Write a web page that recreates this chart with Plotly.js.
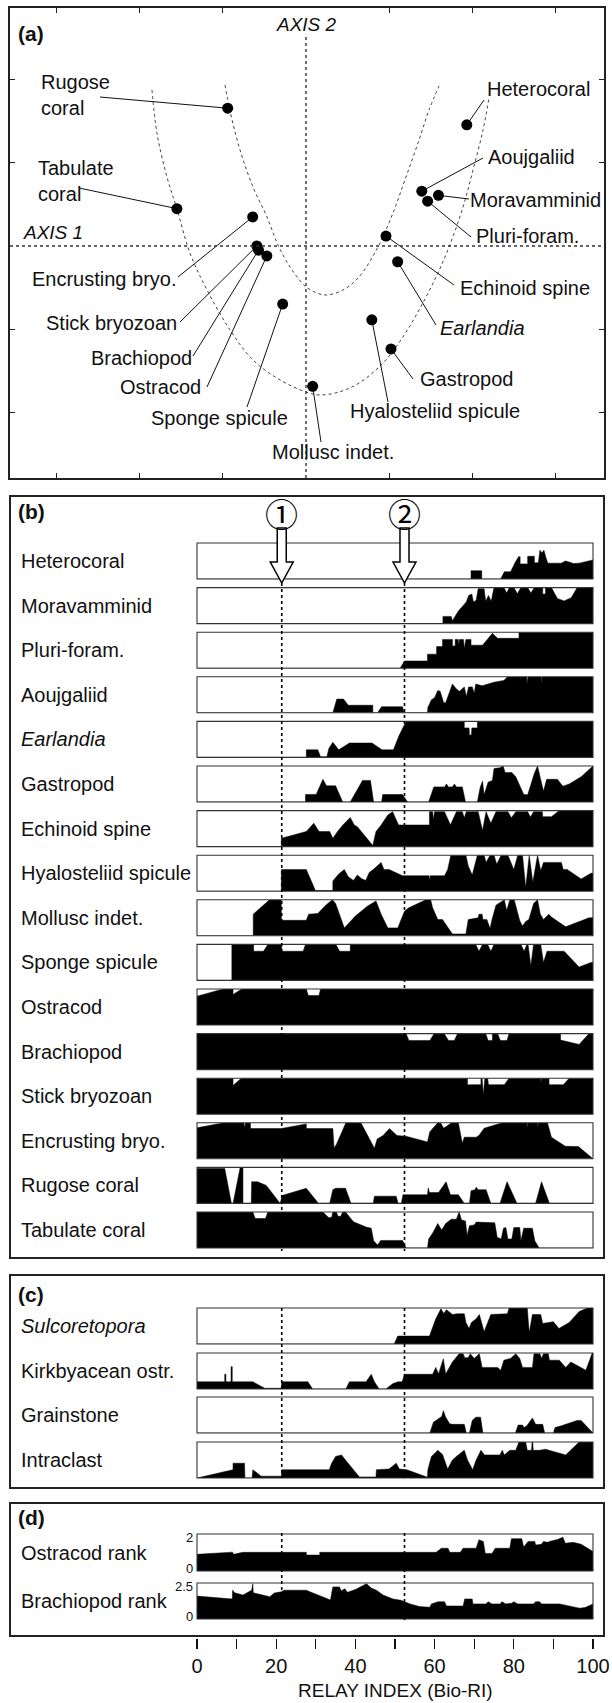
<!DOCTYPE html>
<html><head><meta charset="utf-8">
<script src="https://cdn.plot.ly/plotly-3.0.1.min.js"></script>
<style>html,body{margin:0;padding:0;background:#fff}#chart{width:612px;height:1703px}</style>
</head><body><div id="chart"></div>
<script>
// ================= DATA =================
// ---- Panel (a): ordination scores (axis 1 = x, axis 2 = y)
const ordLabels = ['Rugose<br>coral','Tabulate<br>coral','Encrusting bryo.','Stick bryozoan','Brachiopod','Ostracod','Sponge spicule','Mollusc indet.',
  'Heterocoral','Aoujgaliid','Moravamminid','Pluri-foram.','Echinoid spine','<i>Earlandia</i>','Gastropod','Hyalosteliid spicule'];
const ordAxis1 = [-0.94,-1.55,-0.64,-0.59,-0.57,-0.47,-0.28,0.08, 1.93,1.39,1.59,1.46,0.96,1.10,1.02,0.79];
const ordAxis2 = [1.66,0.45,0.35,0.00,-0.05,-0.12,-0.70,-1.69, 1.46,0.66,0.61,0.54,0.12,-0.19,-1.24,-0.89];
const innerCurveX = [-0.972,-0.912,-0.792,-0.636,-0.468,-0.336,-0.192,-0.048,0,0.216,0.444,0.636,0.864,1.044,1.200,1.357,1.477,1.597];
const innerCurveY = [1.940,1.627,1.157,0.711,0.349,0.012,-0.253,-0.446,-0.494,-0.590,-0.530,-0.373,-0.012,0.398,0.831,1.277,1.639,1.928];
const outerCurveX = [-1.849,-1.789,-1.669,-1.549,-1.393,-1.188,-0.912,-0.636,-0.312,0,0.156,0.396,0.636,0.924,1.164,1.357,1.561,1.717,1.885,2.005,2.125,2.197];
const outerCurveY = [1.880,1.361,0.831,0.446,-0.084,-0.530,-1.012,-1.373,-1.614,-1.759,-1.795,-1.759,-1.651,-1.410,-1.096,-0.771,-0.373,-0.012,0.470,0.916,1.398,1.783];
const axisTicksX = [-3,-2,-1,1,2,3];
const axisTicksY = [-2,-1,1,2];

// ---- Panels (b)-(d): [Relay index, relative abundance]
const heterocoral = [[0,0],[69.2,0],[69.2,0.23],[71.9,0.23],[71.9,0],[76.7,0],[77.6,0.2],[79.2,0.2],[80.3,0.45],[81.2,0.62],[81.6,0.62],[81.6,0.42],[83.5,0.42],[83.5,0.63],[85.2,0.63],[85.2,0.45],[86.2,0.45],[86.6,0.8],[87.1,0.72],[87.6,0.8],[88.1,0.6],[88.6,0.44],[92,0.44],[93,0.5],[94,0.47],[95,0.43],[96.5,0.44],[99.5,0.53],[100,0.53]];
const moravamminid = [[0,0],[62.1,0],[62.1,0.2],[64.2,0.2],[64.5,0.08],[66,0.35],[68,0.6],[68.6,0.78],[69.4,0.82],[69.8,0.6],[70.5,0.65],[71,0.97],[72.5,0.97],[72.9,0.62],[73.6,0.78],[74.3,0.62],[75,1],[77.5,1],[78.2,0.85],[78.9,1],[80,1],[80.9,0.83],[81.8,1],[83.5,1],[84.3,0.85],[85.2,1],[87.3,1],[87.3,0.82],[88,0.82],[88,1],[89.5,1],[91,0.7],[92.7,0.63],[94.5,0.72],[96,1],[100,1]];
const pluriForam = [[0,0],[51.3,0],[52.4,0.2],[58.2,0.2],[58.2,0.39],[60.5,0.39],[60.5,0.6],[62,0.6],[62,0.8],[64.5,0.8],[64.5,0.62],[65.2,0.62],[65.2,0.8],[66,0.8],[66,0.65],[66.3,0.8],[67.3,0.8],[67.5,0.55],[67.9,0.8],[69.2,0.8],[69.2,0.64],[72.1,0.64],[74.6,0.97],[75.9,0.83],[81.3,0.83],[81.3,1],[100,1]];
const aoujgaliid = [[0,0],[34.3,0],[35.3,0.38],[37,0.38],[38.2,0.21],[44.4,0.21],[44.4,0],[45.6,0],[46.6,0.17],[51.9,0.17],[52.3,0],[58.2,0],[58.3,0.15],[59.2,0.36],[60,0.42],[60.8,0.62],[61.4,0.6],[62.3,0.28],[62.8,0.28],[64.5,0.8],[65.5,0.66],[66.3,0.6],[67.5,0.72],[68,0.45],[68.6,0.72],[69.5,0.72],[70,0.55],[70.4,0.8],[72,0.75],[73.5,0.8],[75,0.85],[77.5,0.9],[78.4,1],[83.3,1],[83.3,0.8],[83.6,1],[87,1],[87,0.8],[87.2,1],[100,1]];
const earlandia = [[0,0],[27.6,0],[27.6,0.21],[30.5,0.21],[31.2,0.02],[32.8,0.02],[33.3,0.25],[34.3,0.42],[35.8,0.21],[37,0.3],[38.5,0.4],[44.2,0.4],[46.7,0.21],[49.6,0.21],[51,0.6],[52.8,1],[67.5,1],[67.5,0.82],[68.7,0.82],[68.8,0.62],[69.3,0.62],[69.4,0.82],[70.8,0.82],[70.8,1],[100,1]];
const gastropod = [[0,0],[27.4,0],[27.4,0.21],[30.1,0.21],[31.8,0.63],[32.7,0.45],[35,0.45],[36.8,0],[38.7,0],[41.8,0.6],[43.8,0.6],[44.6,0],[46.6,0],[46.9,0.21],[51.9,0.21],[53.2,0],[58.5,0],[59.8,0.42],[62.5,0.42],[63,0.5],[63.5,0.42],[64.5,0.42],[65,0.5],[65.5,0.42],[67,0.42],[67.8,0],[70.8,0],[71.5,0.4],[72.1,0.58],[72.5,0.2],[73.5,0.55],[74.6,0.6],[75,0.93],[76.5,0.95],[77.3,1],[77.8,0.82],[79.5,0.82],[80.5,0.7],[82.5,0.21],[83.5,0.2],[85.2,0.8],[86,1],[86.8,0.62],[87.5,0.3],[88.3,0.63],[91,0.63],[92.4,0.44],[94,0.5],[97,0.7],[100,1]];
const echinoidSpine = [[0,0],[21.3,0],[21.3,0.23],[27.6,0.42],[29.5,0.65],[30.8,0.42],[33.5,0.42],[34.3,0.23],[35.5,0.42],[37,0.62],[38.7,0.81],[39.7,0.6],[40.5,0.55],[44.4,0.03],[45.2,0.42],[46.5,0.6],[48.2,0.88],[49.4,0.97],[50.9,0.6],[58.7,0.6],[58.7,0.97],[59.5,0.97],[59.7,0.75],[60,0.97],[62.5,0.97],[64,0.6],[65.5,0.97],[67,0.97],[67.5,0.8],[68,0.97],[71,0.97],[72.1,0.45],[73,0.97],[74.2,0.65],[75.5,0.97],[78.5,0.97],[79.4,0.8],[80.5,0.97],[83.5,0.97],[84.2,0.82],[85,0.97],[87.2,0.97],[87.3,0.83],[89.5,0.83],[91.5,1],[100,1]];
const hyalosteliid = [[0,0],[21.3,0],[21.3,0.6],[27.6,0.6],[29.9,0.02],[34.3,0.02],[34.3,0.28],[35.8,0.48],[37.2,0.6],[38.2,0.4],[39.5,0.3],[40.5,0.45],[41.5,0.35],[42.6,0.3],[43.5,0.52],[44.5,0.6],[46.5,0.8],[47.2,0.6],[48.5,0.6],[51.9,0.43],[58.6,0.43],[58.7,0.3],[58.9,0.43],[62.5,0.43],[63.3,0.6],[64.1,1],[67.9,1],[68.5,0.7],[69.5,0.45],[70.8,1],[72.5,1],[73,0.8],[74,1],[75,1],[75.7,0.75],[76.8,1],[78.5,1],[80,0.6],[81,1],[82.2,1],[83,0.1],[83.9,1],[84.8,0.25],[86,1],[86.8,0.57],[87.5,0.8],[92,0.8],[92.5,0.6],[93.5,0.6],[97,0.34],[99.5,0.5],[100,0.5]];
const molluscIndet = [[0,0],[14.2,0],[14.2,0.6],[16.2,0.8],[18.3,1],[21.3,1],[21.3,0.43],[27.6,0.43],[28.2,0.6],[30.5,0.62],[32.5,0.85],[34.2,1],[35,0.9],[37.2,0.22],[40,0.55],[43,0.82],[45.2,0.97],[46.5,0.6],[48.2,0.22],[50.7,0.22],[52.4,0.68],[53.5,0.78],[57.8,1],[59,1],[59.5,0.78],[60.8,0.45],[62,0.45],[64.5,0.05],[67.9,0.05],[68.5,0.45],[71,0.5],[71.2,0.6],[72,0.6],[72.2,0.45],[73.2,0.45],[74,0.2],[74.5,0.45],[75.5,0.85],[77.6,1],[78.2,0.7],[79,1],[80.1,1],[81.5,0.42],[82.2,0.27],[83,0.4],[83.8,0.45],[85,0.9],[86,1],[86.7,0.6],[87.5,0.45],[88.8,0.6],[89.5,0.52],[93.1,0.25],[99,0.5],[100,0.5]];
const spongeSpicule = [[0,0],[8.8,0],[8.8,1],[14.3,1],[14.3,0.81],[16.8,0.81],[17.9,1],[21.4,1],[21.4,0.81],[26.8,0.81],[27.4,1],[35.1,1],[36,0.81],[38.7,0.81],[38.7,1],[70.4,1],[71.2,0.81],[72.1,1],[73.4,1],[74.2,0.81],[75,1],[81.8,1],[82.6,0.81],[83.3,1],[83.6,1],[84.3,0.4],[85,1],[86.8,1],[87.5,0.5],[88.4,0.81],[92.7,0.81],[96.5,0.37],[99.5,0.5],[100,0.5]];
const ostracod = [[0,0.8],[6.6,1],[9.1,1],[9.1,0.85],[11.3,1],[27.6,1],[28.1,0.82],[30.8,0.82],[31.2,1],[100,1]];
const brachiopod = [[0,1],[52.8,1],[53.5,0.81],[58.8,0.81],[59.9,1],[62.4,1],[63.5,0.81],[65,0.81],[65.8,1],[72.9,1],[73.5,0.81],[74.6,0.81],[74.6,1],[75.9,1],[76.6,0.81],[78.3,0.81],[78.8,1],[91.8,1],[91.8,0.82],[96.5,0.7],[99,1],[100,1]];
const stickBryozoan = [[0,1],[9.1,1],[9.1,0.8],[11.2,1],[68.3,1],[68.3,0.82],[71.7,0.82],[71.7,1],[72,1],[72.3,0.55],[72.7,1],[73.4,1],[73.6,0.82],[77.6,0.82],[78.8,1],[86.8,1],[86.8,0.85],[87,1],[88.9,1],[88.9,0.82],[92.5,0.82],[94,1],[100,1]];
const encrustingBryo = [[0,0.86],[6.8,1],[11.9,1],[11.9,0.86],[12.3,1],[13.5,1],[13.5,0.84],[21.3,0.84],[27.6,0.97],[27.6,0.84],[34.3,0.84],[34.6,0.3],[35.2,0.4],[37.6,1],[41.4,1],[44.8,0.29],[45.5,0.55],[47,0.65],[48.6,0.84],[50.5,0.65],[53,0.62],[58.2,0.47],[58.8,0.75],[60.8,1],[61.5,1],[62.3,0.85],[64.3,1],[66,1],[67,0.43],[67.5,0.6],[70.5,0.6],[71.2,0.65],[72.5,0.85],[75.5,0.95],[77.1,1],[83.3,1],[83.3,0.85],[83.5,1],[86,1],[86,0.85],[86.2,1],[88.5,1],[89.5,0.6],[93,0.35],[96.3,0.34],[99.8,0.02],[100,0]];
const rugoseCoral = [[0,0.97],[7,0.97],[8.7,0],[9.1,0],[10.9,1],[11.6,1],[11.6,0],[13.7,0],[13.8,0.6],[15.3,0.6],[17.5,0.5],[19.5,0.2],[21,0],[21.5,0.22],[27.6,0.42],[30.7,0],[33.5,0],[34.3,0.38],[35,0.42],[37.5,0.42],[38.9,0],[44.5,0],[44.8,0.2],[50.3,0.2],[50.8,0],[51.6,0],[52,0.24],[58.2,0.24],[58.4,0.43],[58.7,0.3],[61,0.3],[62.9,0.6],[64,0.24],[66,0.24],[67.5,0],[68.8,0],[69.2,0.35],[70.2,0.38],[70.5,0.45],[71,0.38],[73,0.38],[74.2,0],[76.5,0],[78.3,0.6],[80.8,0],[85.5,0],[87,0.6],[89,0],[100,0]];
const tabulateCoral = [[0,1],[14.1,1],[14.7,0.82],[17.3,0.82],[17.9,1],[31.8,1],[33.2,0.85],[34,0.85],[34.3,1],[35.2,1],[35.6,0.88],[36.3,0.88],[36.8,1],[37.5,1],[39.5,0.73],[41.5,0.64],[42.7,0.58],[44,0.55],[44.6,0.2],[45.6,0.08],[46.4,0.21],[51.9,0.21],[52.8,0],[58.2,0],[58.5,0.25],[59.6,0.43],[60.8,0.68],[61.8,0.5],[62.8,0.68],[64.2,0.8],[65.5,0.8],[66.2,1],[66.8,0.78],[67.8,0.75],[68.2,0.35],[68.8,0.62],[70,0.64],[70.5,0.72],[74.8,0.72],[75.2,0.7],[75.8,0.3],[76.8,0.25],[77.4,0.55],[78,0.57],[78.5,0.25],[79.5,0.25],[80,0.57],[81.5,0.57],[81.8,0.2],[82.5,0.55],[84.7,0.55],[85.3,0.2],[86.4,0],[100,0]];
const sulcoretopora = [[0,0],[49.8,0],[50.7,0.22],[58.7,0.22],[60.3,0.7],[61.6,0.98],[62.3,0.85],[63,0.95],[64.5,0.82],[65.8,0.84],[67.5,0.84],[67.9,0.6],[68.7,0.43],[69.3,0.6],[70.5,0.7],[71.3,0.82],[72.5,0.34],[74.2,0.82],[78.4,0.84],[78.8,1],[83.4,1],[83.9,0.31],[84.7,0.82],[86.8,0.82],[87.3,0.57],[88.5,0.6],[90,0.62],[91.4,0.43],[94,0.6],[96.5,0.9],[98.6,1],[100,1]];
const kirkbyacean = [[0,0.2],[7,0.2],[7,0.41],[7.3,0.41],[7.3,0.2],[8.6,0.2],[8.6,0.62],[8.9,0.62],[8.9,0.2],[14.1,0.2],[17.1,0.02],[21.3,0.02],[21.4,0.2],[28,0.2],[29.2,0],[37.6,0],[38.5,0.2],[42.7,0.2],[44,0.41],[44.8,0.2],[46,0],[47.7,0],[49.5,0.15],[50.8,0.2],[51.8,0.2],[52.4,0.41],[59.5,0.41],[60.3,0.6],[61,0.42],[62.2,0.84],[62.8,0.42],[64.5,0.75],[66.2,0.98],[67.2,0.98],[67.6,0.87],[68.5,0.87],[69,0.98],[70,0.85],[71.3,0.98],[72,0.6],[75.9,0.6],[76.7,0.52],[77.5,0.8],[79.2,0.85],[80.5,0.98],[81.5,0.85],[82.2,0.6],[84.7,0.6],[85.1,0.98],[86.6,0.98],[87,0.85],[87.5,0.98],[88.7,0.98],[89,0.8],[91.5,0.8],[93.1,0.6],[94.4,0.75],[98.2,0.52],[99.8,1],[100,1]];
const grainstone = [[0,0],[58.8,0],[59.7,0.3],[60.8,0.38],[61.8,0.46],[62.2,0.62],[62.8,0.44],[63.8,0.26],[64.5,0.24],[67.5,0.24],[68,0],[68.8,0],[69.5,0.35],[70.4,0.44],[71.6,0.44],[72.2,0],[80.4,0],[81.1,0.22],[82.2,0.22],[82.6,0.15],[83.3,0.2],[84.7,0.42],[85.5,0.24],[87.3,0.24],[87.8,0],[90,0],[90.4,0.15],[92,0.2],[96,0.35],[97,0.35],[99.8,0],[100,0]];
const intraclast = [[0,0],[9.1,0.23],[9.1,0.41],[12,0.41],[12.1,0],[13.9,0],[14.1,0.23],[16.2,0.05],[21.3,0.05],[21.4,0.23],[33.4,0.23],[34,0.41],[35,0.6],[36.5,0.64],[37.5,0.5],[39,0.3],[41,0.03],[45.2,0.03],[45.3,0.23],[48.5,0.25],[50.3,0.41],[51.1,0.25],[53,0.23],[58.2,0.02],[58.3,0.23],[59.2,0.6],[60.8,0.77],[62,0.65],[63.3,0.25],[64.5,0.5],[65.5,0.6],[67.5,0.77],[68.3,0.5],[69.6,0.23],[70.5,0.5],[71.7,0.77],[72.6,0.64],[76.5,0.64],[77.1,0.77],[77.6,0.64],[79,0.77],[80.5,0.77],[81.3,1],[83,1],[83.4,0.77],[84.5,0.77],[84.6,1],[84.8,1],[84.9,0.77],[86.5,0.77],[88,0.8],[93.1,0.64],[96.5,1],[100,1]];
const ostracodRank = [[0,0.9],[9,1.02],[9.2,0.9],[11.6,1.01],[27.6,1.01],[27.6,0.86],[31,0.86],[31,1.01],[60.4,1.01],[61.7,1.23],[63.4,1.23],[63.8,1.01],[66.5,1.01],[67.2,1.23],[70.5,1.23],[71.2,1.69],[72.3,1.6],[72.8,0.95],[74.5,0.95],[75.3,1.23],[79,1.23],[79.4,1.75],[82,1.75],[82.5,1.3],[83.6,1.6],[85.3,1.6],[85.5,1.4],[87,1.45],[87.5,1.6],[88.5,1.55],[89,1.6],[90,1.65],[91,1.7],[92.4,1.83],[93,1.5],[95,1.55],[97,1.45],[100,1.05]];
const brachiopodRank = [[0,1.59],[8.9,1.39],[9,2.0],[9.5,1.82],[11.6,1.66],[12.4,1.77],[13.8,2.0],[14.1,2.45],[14.2,1.82],[18.4,1.55],[19.5,1.8],[21.3,1.89],[22,2.0],[27.6,2.0],[28.5,1.89],[33.7,1.32],[34.3,2.23],[36,2.23],[36.4,1.95],[37.3,2.1],[38,1.85],[40,2.05],[42.8,2.45],[44,2.15],[45.3,2.0],[47,1.66],[49.5,1.39],[51.5,1.3],[52.4,1.2],[53.8,1.05],[56.2,0.86],[58.8,0.82],[59.2,1.05],[60.9,1.2],[62.5,1.2],[63,0.91],[67.2,0.9],[67.6,1.39],[69.5,1.39],[69.7,1.05],[73,1.05],[73.5,1.2],[74.5,1.05],[76.5,1.05],[77,1.2],[78,1.05],[79.5,1.1],[80,1.2],[81,1.05],[85,1.05],[85.5,1.2],[86.5,1.2],[87,1.05],[91.6,1.05],[96.6,0.75],[98,0.8],[100,1.05]];

const stripNames = ['Heterocoral','Moravamminid','Pluri-foram.','Aoujgaliid','<i>Earlandia</i>','Gastropod','Echinoid spine','Hyalosteliid spicule','Mollusc indet.','Sponge spicule','Ostracod','Brachiopod','Stick bryozoan','Encrusting bryo.','Rugose coral','Tabulate coral',
  '<i>Sulcoretopora</i>','Kirkbyacean ostr.','Grainstone','Intraclast','Ostracod rank','Brachiopod rank'];
const stripSeries = [heterocoral,moravamminid,pluriForam,aoujgaliid,earlandia,gastropod,echinoidSpine,hyalosteliid,molluscIndet,spongeSpicule,ostracod,brachiopod,stickBryozoan,encrustingBryo,rugoseCoral,tabulateCoral,
  sulcoretopora,kirkbyacean,grainstone,intraclast,ostracodRank,brachiopodRank];
const stripMax = [1,1,1,1,1,1,1,1,1,1,1,1,1,1,1,1, 1,1,1,1, 2,2.5];
const rankTickVals = [[0,2],[0,2.5]];
const rankTickText = [['0','2'],['0','2.5']];
const boundaries = [21.4, 52.4];
const boundaryMarks = ['\u2460','\u2461'];
const relayTickVals = [0,10,20,30,40,50,60,70,80,90,100];
const relayTickText = ['0','','20','','40','','60','','80','','100'];

// ================= LAYOUT (pixel geometry) =================
const W = 612, H = 1703;
const PX = v => v / W;
const PY = v => 1 - v / H;
const FONT = 'Liberation Sans, Arial, Helvetica, sans-serif';
const A = {l:10, r:604, t:8, b:478};
const xRangeA = [-3.553, 3.577], yRangeA = [-2.795, 2.867];
const aX = p => xRangeA[0] + (p - A.l) / (A.r - A.l) * (xRangeA[1] - xRangeA[0]);
const aY = p => yRangeA[1] - (p - A.t) / (A.b - A.t) * (yRangeA[1] - yRangeA[0]);

const stripTops = [];
for (let i = 0; i < 16; i++) stripTops.push(543 + 44.6 * i);
stripTops.push(1308, 1353, 1397, 1442, 1534, 1583);
const stripHeights = stripTops.map((t, i) => i === 20 ? 37 : 36);

const traces = [];
const shapes = [];
const annotations = [];

// ---- Panel (a)
traces.push({x: innerCurveX, y: innerCurveY, xaxis:'x', yaxis:'y', mode:'lines', line:{dash:'dot', width:1, color:'#444', shape:'spline'}, hoverinfo:'skip'});
traces.push({x: outerCurveX, y: outerCurveY, xaxis:'x', yaxis:'y', mode:'lines', line:{dash:'dot', width:1, color:'#444', shape:'spline'}, hoverinfo:'skip'});

// label placement (pixels): [x, y, anchor, leaderStartX, leaderStartY]
const labelPos = [
  [39, 95, 'left', 100, 97],
  [36, 181, 'left', 79, 188],
  [179, 279, 'right', 178, 277],
  [179, 323, 'right', 180, 322],
  [194, 358, 'right', 193, 356],
  [203, 387, 'right', 207, 387],
  [290, 418, 'right', 247, 407],
  [333, 452, 'center', 321, 442],
  [485, 89, 'left', 484, 100],
  [486, 157, 'left', 483, 158],
  [468, 200, 'left', 469, 199],
  [474, 236, 'left', 471, 237],
  [458, 288, 'left', 454, 285],
  [438, 328, 'left', 436, 325],
  [418, 379, 'left', 413, 379],
  [348, 411, 'left', 388, 402]
];
const lx = [], ly = [];
ordLabels.forEach((t, i) => {
  const p = labelPos[i];
  lx.push(aX(p[3]), ordAxis1[i], null);
  ly.push(aY(p[4]), ordAxis2[i], null);
  annotations.push({text: t, x: PX(p[0]), y: PY(p[1]), xref:'paper', yref:'paper', xanchor: p[2], yanchor:'middle', align: p[2] === 'center' ? 'center' : 'left', showarrow:false, font:{size:20, family:FONT, color:'#111'}});
});
traces.push({x: lx, y: ly, xaxis:'x', yaxis:'y', mode:'lines', line:{width:1, color:'#111'}, hoverinfo:'skip'});
traces.push({x: ordAxis1, y: ordAxis2, xaxis:'x', yaxis:'y', mode:'markers', marker:{size:11, color:'#000'}, hoverinfo:'skip'});

shapes.push({type:'line', xref:'x domain', yref:'y', x0:0, x1:1, y0:0, y1:0, line:{dash:'dot', width:1.4, color:'#333'}});
shapes.push({type:'line', xref:'x', yref:'y', x0:0, x1:0, y0:yRangeA[0], y1:aY(37), line:{dash:'dot', width:1.4, color:'#333'}});
annotations.push({text:'<i>AXIS 2</i>', x:0, y:PY(25), xref:'x', yref:'paper', xanchor:'center', yanchor:'middle', showarrow:false, font:{size:19, family:FONT, color:'#111'}});
annotations.push({text:'<i>AXIS 1</i>', x:PX(21), y:PY(233), xref:'paper', yref:'paper', xanchor:'left', yanchor:'middle', showarrow:false, font:{size:19, family:FONT, color:'#111'}});

// panel letters
[['(a)',33],['(b)',511],['(c)',1294],['(d)',1517]].forEach(p => {
  annotations.push({text:'<b>'+p[0]+'</b>', x:PX(16), y:PY(p[1]), xref:'paper', yref:'paper', xanchor:'left', yanchor:'middle', showarrow:false, font:{size:21, family:FONT, color:'#111'}});
});

// panel boxes b, c, d
[[496,1258],[1275,1488],[1503,1636]].forEach(b => {
  shapes.push({type:'rect', xref:'paper', yref:'paper', x0:PX(10), x1:PX(604), y0:PY(b[1]), y1:PY(b[0]), line:{width:2, color:'#222'}});
});

// ---- strips
const layout = {
  width: W, height: H, margin:{l:0, r:0, t:0, b:0},
  paper_bgcolor:'#fff', plot_bgcolor:'rgba(0,0,0,0)', showlegend:false,
  font:{family:FONT, color:'#111'},
  xaxis:{domain:[PX(A.l), PX(A.r)], range:xRangeA, anchor:'y', showgrid:false, zeroline:false, showline:true, mirror:'ticks', linewidth:2, linecolor:'#222',
    ticks:'inside', ticklen:5, tickwidth:1, tickcolor:'#222', tickvals:axisTicksX, showticklabels:false, fixedrange:true},
  yaxis:{domain:[PY(A.b), PY(A.t)], range:yRangeA, anchor:'x', showgrid:false, zeroline:false, showline:true, mirror:'ticks', linewidth:2, linecolor:'#222',
    ticks:'inside', ticklen:5, tickwidth:1, tickcolor:'#222', tickvals:axisTicksY, showticklabels:false, fixedrange:true},
  xaxis2:{domain:[PX(197), PX(593)], range:[0,100], anchor:'free', position:PY(1638), side:'bottom', showgrid:false, zeroline:false, showline:false,
    ticks:'outside', ticklen:10, tickwidth:1.3, tickcolor:'#111', tickvals:relayTickVals, ticktext:relayTickText, tickfont:{size:20, family:FONT, color:'#111'}, fixedrange:true},
};

stripSeries.forEach((s, i) => {
  const ax = 'y' + (i + 2);
  const top = stripTops[i], h = stripHeights[i];
  layout['yaxis' + (i + 2)] = {domain:[PY(top + h), PY(top)], anchor:'x2', range:[0, stripMax[i]], showgrid:false, zeroline:false, showline:false,
    ticks:'', showticklabels:false, fixedrange:true};
  traces.push({x: s.map(p => p[0]), y: s.map(p => p[1]), xaxis:'x2', yaxis:ax, mode:'lines', line:{width:0.5, color:'#000'}, fill:'tozeroy', fillcolor:'#000', hoverinfo:'skip'});
  shapes.push({type:'rect', xref:'x2 domain', yref: ax + ' domain', x0:0, x1:1, y0:0, y1:1, line:{width:1.1, color:'#333'}, layer:'above'});
  annotations.push({text: stripNames[i], x:PX(19), y:0.5, xref:'paper', yref: ax + ' domain', xanchor:'left', yanchor:'middle', showarrow:false, font:{size:20, family:FONT, color:'#111'}});
  if (i >= 20) {
    rankTickVals[i-20].forEach((v, j) => {
      annotations.push({text: rankTickText[i-20][j], x:PX(195), y:v, xref:'paper', yref:ax, xanchor:'right', yanchor:'middle',
        yshift: j === 0 ? 3 : -3, showarrow:false, font:{size:13, family:FONT, color:'#111'}});
    });
  }
});

// boundary dotted lines, arrows, circled numbers
const dotSpans = [[[583,1251],[1308,1478],[1533,1593]], [[583,1251],[1308,1478],[1533,1623]]];
boundaries.forEach((b, k) => {
  dotSpans[k].forEach(sp => {
    shapes.push({type:'line', xref:'x2', yref:'paper', x0:b, x1:b, y0:PY(sp[0]), y1:PY(sp[1]), line:{dash:'dot', width:1.6, color:'#000'}, layer:'above'});
  });
  const sw = 1.14, hw = 2.9;
  const yT = PY(528), yH = PY(562), yTip = PY(583);
  const path = `M ${b-sw},${yT} L ${b+sw},${yT} L ${b+sw},${yH} L ${b+hw},${yH} L ${b},${yTip} L ${b-hw},${yH} L ${b-sw},${yH} Z`;
  shapes.push({type:'path', xref:'x2', yref:'paper', path:path, fillcolor:'#fff', line:{width:1.5, color:'#000'}, layer:'above'});
  annotations.push({text: boundaryMarks[k], x:b, y:PY(513), xref:'x2', yref:'paper', xanchor:'center', yanchor:'middle', showarrow:false, font:{size:33, family:'Noto Sans CJK JP, DejaVu Sans, sans-serif', color:'#000'}});
});

annotations.push({text:'RELAY INDEX (Bio-RI)', x:50, y:PY(1690), xref:'x2', yref:'paper', xanchor:'center', yanchor:'middle', showarrow:false, font:{size:19, family:FONT, color:'#111'}});

layout.shapes = shapes;
layout.annotations = annotations;

Plotly.newPlot('chart', traces, layout, {staticPlot:true, displayModeBar:false});
</script>
</body></html>
